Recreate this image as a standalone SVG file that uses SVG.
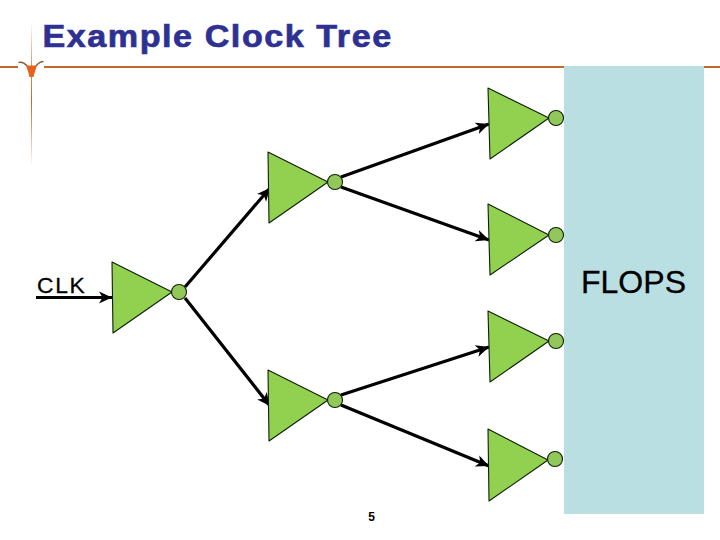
<svg xmlns="http://www.w3.org/2000/svg" width="720" height="540" viewBox="0 0 720 540">
<style>
.tri{fill:#92d050;stroke:#0c1f06;stroke-width:1.100;stroke-linejoin:round}
.bub{fill:#92c85a;stroke:#0c1f06;stroke-width:1.100}
.wire{fill:none;stroke:#000;stroke-width:3.200;marker-end:url(#arrow)}
text{font-family:"Liberation Sans",Arial,sans-serif}
</style>
<defs>
<marker id="arrow" markerUnits="userSpaceOnUse" markerWidth="16" markerHeight="14" refX="13" refY="7" orient="auto">
<path d="M0 1L13 7L0 13L3.500 7Z" fill="#000"/>
</marker>
<linearGradient id="vl" x1="0" y1="0" x2="0" y2="1">
<stop offset="0" stop-color="#bf6a2a" stop-opacity="0"/>
<stop offset="0.3" stop-color="#bf6a2a" stop-opacity="0.7"/>
<stop offset="0.55" stop-color="#bf6a2a"/>
<stop offset="1" stop-color="#bf6a2a" stop-opacity="0"/>
</linearGradient>
</defs>
<rect width="720" height="540" fill="#fff"/>
<rect id="flops-block" x="564" y="66" width="140" height="448" fill="#b9dfe3"/>
<g id="decor">
<path d="M0 67H18M44 67H564M704 67H720" stroke="#bf6a2a" stroke-width="2" fill="none"/>
<rect x="31" y="22" width="1" height="145" fill="url(#vl)"/>
<path d="M18.500 62.500C22 61.500 25 63.500 27 66M43.500 61.500C40 61.500 38 63.500 36 66" stroke="#8a5a30" stroke-width="1.500" fill="none"/>
<path d="M26 65.500H37C36 69 34.500 72 33.500 77H29.500C28.500 72 27 69 26 65.500Z" fill="#e5621a"/>
</g>
<text id="title" transform="translate(42.500 47) scale(1.1 1)" font-size="31" font-weight="700" fill="#2e3192" stroke="#2e3192" stroke-width="0.700" textLength="317" lengthAdjust="spacing">Example Clock Tree</text>
<g id="connectors">
<path class="wire" d="M36 297.500H112"/>
<path class="wire" d="M185 287L270 188"/>
<path class="wire" d="M185 298L270 406"/>
<path class="wire" d="M341 177L489 124"/>
<path class="wire" d="M341 187L489 240"/>
<path class="wire" d="M341 395L489 347"/>
<path class="wire" d="M341 405L489 466"/>
</g>
<g id="buf-root"><path class="tri" d="M112 262L113 333L172 292Z"/><circle class="bub" cx="179" cy="292" r="7.500"/></g>
<g id="buf-upper"><path class="tri" d="M268 152L269 223L328 182Z"/><circle class="bub" cx="335" cy="182" r="7.500"/></g>
<g id="buf-lower"><path class="tri" d="M268 370L269 441L328 400Z"/><circle class="bub" cx="335" cy="400" r="7.500"/></g>
<g id="buf-leaf1"><path class="tri" d="M488 88L490 159L549 118Z"/><circle class="bub" cx="556" cy="118" r="7.500"/></g>
<g id="buf-leaf2"><path class="tri" d="M488 204L490 275L549 235Z"/><circle class="bub" cx="556" cy="235" r="7.500"/></g>
<g id="buf-leaf3"><path class="tri" d="M488 311L490 382L549 341Z"/><circle class="bub" cx="556" cy="341" r="7.500"/></g>
<g id="buf-leaf4"><path class="tri" d="M488 429L489 501L548 460Z"/><circle class="bub" cx="555" cy="459" r="7.500"/></g>
<text id="clk" transform="translate(37 293) scale(1.06 1)" font-size="21.500" fill="#000" stroke="#000" stroke-width="0.300" textLength="45" lengthAdjust="spacing">CLK</text>
<text id="flops" x="581" y="293" font-size="31" fill="#000" stroke="#000" stroke-width="0.300" textLength="105" lengthAdjust="spacingAndGlyphs">FLOPS</text>
<text id="page" x="371.500" y="521" font-size="12" font-weight="700" fill="#000" text-anchor="middle">5</text>
</svg>
